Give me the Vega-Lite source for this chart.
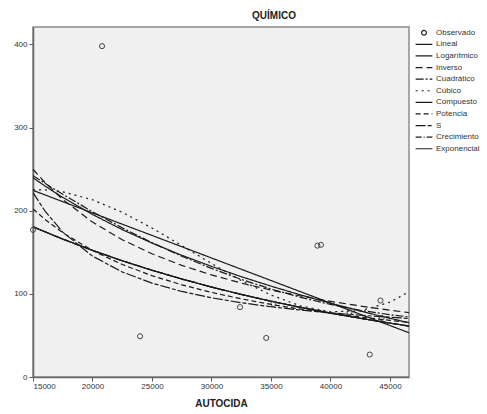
{
  "$schema": "https://vega.github.io/schema/vega-lite/v6.json",
  "width": 376,
  "height": 350,
  "autosize": {"type": "none"},
  "padding": {"left": 33, "top": 27, "right": 78, "bottom": 37},
  "background": "white",
  "config": {
    "font": "Liberation Sans",
    "view": {"fill": "#f0f0f0", "stroke": "#8c8c8c", "strokeWidth": 1.5},
    "axis": {
      "grid": false,
      "tickSize": 4,
      "tickColor": "#555555",
      "domainColor": "#666666",
      "domainWidth": 1.5,
      "labelFont": "Liberation Sans",
      "labelFontSize": 8,
      "labelColor": "#333333",
      "titleFont": "Liberation Sans",
      "titleFontSize": 10,
      "titleFontWeight": "bold",
      "titleColor": "#222222"
    }
  },
  "title": {
    "text": "QUÍMICO",
    "font": "Liberation Sans",
    "fontSize": 10,
    "fontWeight": "bold",
    "color": "#222222",
    "anchor": "middle",
    "dx": 53,
    "dy": 10,
    "offset": 6,
    "baseline": "bottom"
  },
  "datasets": {
    "obs": [
      {"x": 15000, "y": 177},
      {"x": 20800, "y": 398},
      {"x": 24000, "y": 49},
      {"x": 32400, "y": 84},
      {"x": 34600, "y": 47},
      {"x": 35200, "y": 88},
      {"x": 38900, "y": 158},
      {"x": 39200, "y": 159},
      {"x": 41600, "y": 78},
      {"x": 44200, "y": 92},
      {"x": 44300, "y": 71},
      {"x": 43300, "y": 27}
    ],
    "curvas": [
      {"x": 15000, "Lineal": 224.5, "Logarítmico": 239.7, "Inverso": 249.9, "Cuadrático": 242.2, "Cúbico": 225.1, "Compuesto": 180.7, "Potencia": 202.2, "S": 221.9, "Crecimiento": 180.7, "Exponencial": 180.7},
      {"x": 16000, "Lineal": 219.1, "Logarítmico": 229.8, "Inverso": 234.0, "Cuadrático": 233.1, "Cúbico": 225.1, "Compuesto": 174.7, "Potencia": 189.7, "S": 199.7, "Crecimiento": 174.7, "Exponencial": 174.7},
      {"x": 17500, "Lineal": 210.9, "Logarítmico": 216.0, "Inverso": 213.6, "Cuadrático": 219.7, "Cúbico": 222.8, "Compuesto": 165.9, "Potencia": 173.5, "S": 174.3, "Crecimiento": 165.9, "Exponencial": 165.9},
      {"x": 20000, "Lineal": 197.4, "Logarítmico": 195.5, "Inverso": 186.3, "Cuadrático": 198.8, "Cúbico": 213.2, "Compuesto": 152.3, "Potencia": 152.1, "S": 145.4, "Crecimiento": 152.3, "Exponencial": 152.3},
      {"x": 22500, "Lineal": 183.8, "Logarítmico": 177.3, "Inverso": 165.1, "Cuadrático": 179.4, "Cúbico": 198.1, "Compuesto": 139.8, "Potencia": 135.3, "S": 126.3, "Crecimiento": 139.8, "Exponencial": 139.8},
      {"x": 25000, "Lineal": 170.3, "Logarítmico": 161.1, "Inverso": 148.2, "Cuadrático": 161.6, "Cúbico": 179.2, "Compuesto": 128.4, "Potencia": 121.9, "S": 112.9, "Crecimiento": 128.4, "Exponencial": 128.4},
      {"x": 27500, "Lineal": 156.7, "Logarítmico": 146.4, "Inverso": 134.3, "Cuadrático": 145.3, "Cúbico": 158.1, "Compuesto": 117.9, "Potencia": 110.9, "S": 102.9, "Crecimiento": 117.9, "Exponencial": 117.9},
      {"x": 30000, "Lineal": 143.2, "Logarítmico": 133.1, "Inverso": 122.8, "Cuadrático": 130.6, "Cúbico": 136.5, "Compuesto": 108.2, "Potencia": 101.8, "S": 95.3, "Crecimiento": 108.2, "Exponencial": 108.2},
      {"x": 32500, "Lineal": 129.6, "Logarítmico": 120.7, "Inverso": 113.0, "Cuadrático": 117.4, "Cúbico": 116.1, "Compuesto": 99.3, "Potencia": 94.0, "S": 89.3, "Crecimiento": 99.3, "Exponencial": 99.3},
      {"x": 35000, "Lineal": 116.1, "Logarítmico": 109.3, "Inverso": 104.6, "Cuadrático": 105.8, "Cúbico": 98.5, "Compuesto": 91.2, "Potencia": 87.3, "S": 84.5, "Crecimiento": 91.2, "Exponencial": 91.2},
      {"x": 37500, "Lineal": 102.5, "Logarítmico": 98.7, "Inverso": 97.4, "Cuadrático": 95.8, "Cúbico": 85.4, "Compuesto": 83.7, "Potencia": 81.6, "S": 80.5, "Crecimiento": 83.7, "Exponencial": 83.7},
      {"x": 40000, "Lineal": 89.0, "Logarítmico": 88.8, "Inverso": 91.0, "Cuadrático": 87.3, "Cúbico": 78.5, "Compuesto": 76.9, "Potencia": 76.5, "S": 77.2, "Crecimiento": 76.9, "Exponencial": 76.9},
      {"x": 42500, "Lineal": 75.4, "Logarítmico": 79.4, "Inverso": 85.4, "Cuadrático": 80.3, "Cúbico": 79.5, "Compuesto": 70.6, "Potencia": 72.1, "S": 74.3, "Crecimiento": 70.6, "Exponencial": 70.6},
      {"x": 45000, "Lineal": 61.9, "Logarítmico": 70.6, "Inverso": 80.4, "Cuadrático": 74.9, "Cúbico": 90.0, "Compuesto": 64.8, "Potencia": 68.1, "S": 71.9, "Crecimiento": 64.8, "Exponencial": 64.8},
      {"x": 46600, "Lineal": 53.2, "Logarítmico": 65.3, "Inverso": 77.5, "Cuadrático": 72.3, "Cúbico": 102.5, "Compuesto": 61.3, "Potencia": 65.8, "S": 70.5, "Crecimiento": 61.3, "Exponencial": 61.3}
    ]
  },
  "layer": [
    {
      "data": {"name": "curvas"},
      "transform": [
        {"fold": ["Lineal", "Logarítmico", "Inverso", "Cuadrático", "Cúbico", "Compuesto", "Potencia", "S", "Crecimiento", "Exponencial"], "as": ["modelo", "valor"]}
      ],
      "mark": {"type": "line", "strokeWidth": 1.2, "color": "#1a1a1a", "clip": true},
      "encoding": {
        "x": {"field": "x", "type": "quantitative", "scale": {"domain": [15000, 46600], "nice": false, "zero": false},
              "axis": {"title": "AUTOCIDA", "values": [15000, 20000, 25000, 30000, 35000, 40000, 45000], "format": "d", "labelPadding": 1, "titlePadding": 8}},
        "y": {"field": "valor", "type": "quantitative", "scale": {"domain": [0, 421], "nice": false},
              "axis": {"title": null, "values": [0, 100, 200, 300, 400], "labelPadding": 2}},
        "strokeDash": {
          "field": "modelo", "type": "nominal",
          "scale": {
            "domain": ["Observado", "Lineal", "Logarítmico", "Inverso", "Cuadrático", "Cúbico", "Compuesto", "Potencia", "S", "Crecimiento", "Exponencial"],
            "range": [[1, 0], [1, 0], [1, 0], [7, 4], [8, 2, 2, 2], [2, 4], [1, 0], [5, 3], [10, 2, 4, 2], [6, 2, 1, 2], [1, 0]]
          },
          "legend": {
            "title": null,
            "orient": "none",
            "legendX": 382,
            "legendY": 1,
            "labelFont": "Liberation Sans",
            "labelFontSize": 8,
            "labelColor": "#333333",
            "labelOffset": 3,
            "symbolType": "stroke",
            "symbolSize": 280,
            "symbolStrokeWidth": 1.2,
            "symbolStrokeColor": "#1a1a1a",
            "clipHeight": 9.5,
            "rowPadding": 1.6,
            "encode": {
              "symbols": {
                "update": {
                  "shape": {"signal": "datum.value === 'Observado' ? 'circle' : 'stroke'"},
                  "size": {"signal": "datum.value === 'Observado' ? 22 : 280"},
                  "fill": {"value": "transparent"},
                  "stroke": {"value": "#1a1a1a"}
                }
              }
            }
          }
        }
      }
    },
    {
      "data": {"name": "obs"},
      "mark": {"type": "point", "shape": "circle", "filled": false, "size": 26, "color": "#444444", "strokeWidth": 1, "opacity": 1},
      "encoding": {
        "x": {"field": "x", "type": "quantitative"},
        "y": {"field": "y", "type": "quantitative"}
      }
    }
  ]
}
